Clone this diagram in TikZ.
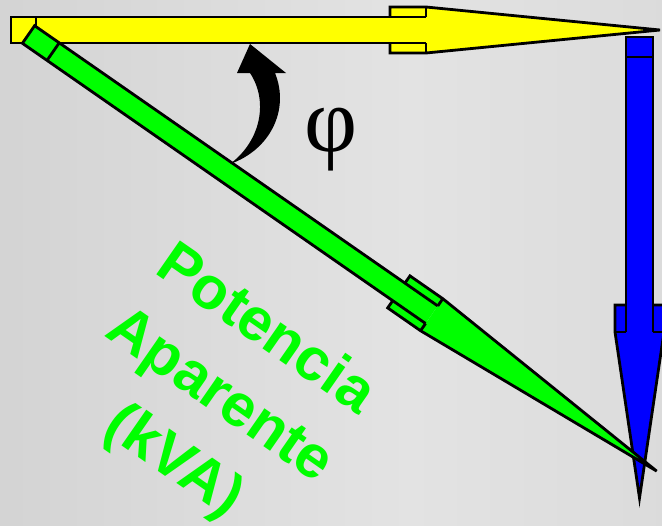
\documentclass[tikz,border=0pt]{standalone}
\usepackage{fontspec}
\setsansfont{Liberation Sans}
\newfontfamily\griega{Liberation Serif}
\definecolor{verde}{RGB}{0,255,0}
\definecolor{amarillo}{RGB}{255,255,0}
\definecolor{azul}{RGB}{0,0,255}
% flecha de bloque: color, origen, giro, cuerpo, total, semiancho, semiancho punta, aleta, banda
\newcommand{\flecha}[9]{%
  \begin{scope}[shift={#2},rotate=#3]
    \fill[#1] (0,-#6) rectangle (#4,#6) (#4-#8,-#7) rectangle (#4,#7);
    \fill[#1] (#4,-#7) -- (#5,0) -- (#4,#7) -- cycle;
    \draw (#4,-#6) -- (0,-#6) -- (0,#6) -- (#4,#6);
    \draw (#4-#8,-#6) -- (#4-#8,-#7) -- (#4,-#7) -- (#5,0) -- (#4,#7) -- (#4-#8,#7) -- (#4-#8,#6);
    \draw (#4,-#7) -- (#4,-#6) (#4,#6) -- (#4,#7);
    \draw (#9,-#6) -- (#9,#6);
  \end{scope}}

\begin{document}
\begin{tikzpicture}[x=0.5pt,y=-0.5pt,line width=1.4pt,line join=miter]
  \useasboundingbox (0,0) rectangle (662,525);
  % fondo
  \shade[left color=black!17,right color=black!11] (0,0) rectangle (410,525);
  \shade[left color=black!11,right color=black!14] (409,0) rectangle (662,525);
  % potencia activa
  \flecha{amarillo}{(11,30)}{0}{415}{649}{13}{23}{36}{25}
  % potencia reactiva
  \flecha{azul}{(639.5,37)}{-90}{295}{461}{13.5}{24.5}{27}{20}
  % potencia aparente
  \flecha{verde}{(28.5,34.5)}{-34.8}{491}{765}{10.7}{19.5}{40}{30}
  % angulo
  \fill (230,164) .. controls (270,150) and (290,110) .. (275,73) -- (286,73) -- (250,44)
    -- (237,73) -- (250,73) .. controls (268,100) and (262,140) .. (230,164) -- cycle;
  \node (fi) at (331,140) {\griega\fontsize{46}{46}\selectfont φ};
  \node[text=verde,rotate=-34.8,align=center,font=\sffamily\bfseries\fontsize{30}{40}\selectfont]
    (kva) at (219,397) {Potencia\\Aparente\\(kVA)};
\end{tikzpicture}
\end{document}
